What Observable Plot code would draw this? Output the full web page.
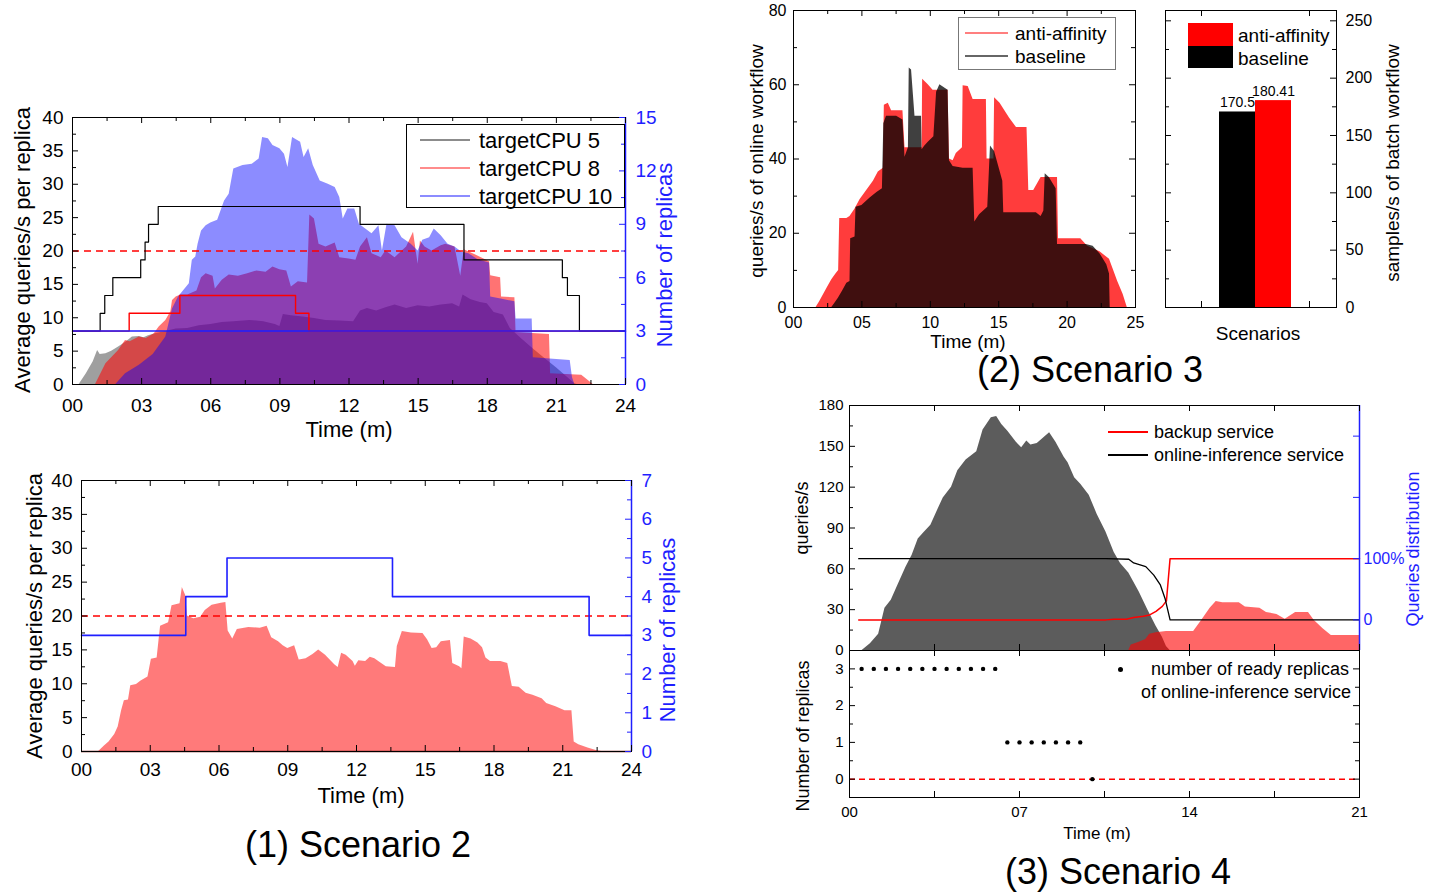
<!DOCTYPE html>
<html>
<head>
<meta charset="utf-8">
<script src="https://cdn.jsdelivr.net/npm/d3@7"></script>
<script src="https://cdn.jsdelivr.net/npm/@observablehq/plot@0.6"></script>
<style>
html,body{margin:0;padding:0;background:#fff;}
#page{position:relative;width:1435px;height:894px;overflow:hidden;font-family:"Liberation Sans",Arial,Helvetica,sans-serif;color:#000;}
.t{position:absolute;white-space:nowrap;line-height:1;}
.deco{position:absolute;box-sizing:border-box;}
</style>
</head>
<body>
<div id="page"></div>
<script>
// ======================= DATA =======================
// ---- (1) Scenario 2, top panel: avg queries/s per replica [minute, value] ----
const s2aCPU5 = [[0,0],[0.29,0],[0.6,1.6],[0.9,3.4],[1.09,5.1],[1.2,4.5],[1.45,4.6],[1.7,5.0],[2.0,5.6],[2.3,6.3],[2.6,7.1],[2.9,7.2],[3.1,7.0],[3.3,7.3],[3.6,7.6],[4.0,7.9],[4.5,8.3],[5.0,8.4],[5.5,8.8],[6.0,9.0],[6.5,9.3],[7.0,9.4],[7.7,9.6],[8.3,9.4],[8.8,9.0],[9.0,8.7],[9.15,10.5],[9.5,10.3],[10.0,10.1],[10.5,9.9],[11.0,9.6],[11.6,9.5],[12.2,9.4],[12.5,11.0],[12.8,11.4],[13.2,11.0],[13.6,11.5],[14.0,11.9],[14.5,11.4],[15.0,11.8],[15.5,11.6],[16.0,11.9],[16.5,12.1],[16.8,11.6],[16.95,13.4],[17.3,12.7],[17.7,12.3],[18.0,12.1],[18.3,10.8],[18.7,10.4],[19.0,8.4],[19.5,6.8],[20.0,5.3],[20.5,3.9],[21.0,2.5],[21.4,1.3],[21.8,0.1],[21.9,0],[24,0]];
const s2aCPU8 = [[0,0],[1.0,0],[1.45,3.1],[2.0,5.1],[2.3,6.6],[2.5,6.4],[2.9,7.1],[3.2,6.9],[3.55,7.6],[3.76,8.6],[4.05,9.6],[4.27,10.9],[4.34,12.6],[4.5,13.1],[4.7,13.4],[5.0,13.4],[5.4,14.0],[5.6,16.0],[5.8,16.6],[6.1,16.2],[6.2,14.3],[6.5,15.6],[6.8,16.4],[7.2,16.2],[7.6,16.6],[8.0,17.0],[8.4,16.8],[8.7,17.6],[9.0,17.2],[9.3,17.0],[9.5,14.6],[9.8,15.4],[10.2,15.2],[10.3,25.4],[10.5,24.8],[10.7,21.0],[11.0,20.6],[11.4,21.2],[11.6,19.0],[12.0,18.8],[12.3,18.6],[12.5,20.6],[12.8,22.0],[13.0,19.6],[13.4,19.0],[13.6,20.0],[14.0,19.0],[14.5,20.6],[14.8,22.8],[15.0,18.0],[15.1,21.5],[15.3,20.6],[15.6,20.0],[16.0,20.8],[16.2,21.0],[16.6,20.6],[16.85,16.2],[17.0,20.2],[17.5,19.4],[18.1,18.4],[18.15,16.3],[18.58,16.0],[18.62,13.1],[19.2,13.0],[19.25,7.8],[20.7,7.5],[20.75,1.6],[22.1,1.4],[22.6,0],[24,0]];
const s2aCPU10 = [[0,0],[1.88,0],[2.3,1.6],[2.9,2.9],[3.5,4.5],[4.05,7.1],[4.34,11.3],[4.6,13.1],[5.07,15.1],[5.2,18.6],[5.35,19.1],[5.45,21.0],[5.6,23.0],[5.8,23.8],[6.0,24.2],[6.3,24.6],[6.6,27.5],[6.8,28.5],[7.0,32.3],[7.4,32.8],[7.8,33.0],[8.1,33.8],[8.25,37.0],[8.5,36.8],[8.7,35.8],[9.0,35.3],[9.2,34.5],[9.35,32.5],[9.55,37.0],[9.9,36.3],[10.05,34.0],[10.25,35.3],[10.45,32.8],[10.75,30.5],[11.1,30.0],[11.4,29.5],[11.6,28.0],[11.75,24.8],[11.95,26.3],[12.25,26.3],[12.45,24.0],[13.0,22.6],[13.3,23.8],[13.45,20.0],[13.65,24.0],[14.0,23.8],[14.3,22.0],[14.7,21.0],[15.0,20.0],[15.2,21.6],[15.5,22.0],[15.7,23.3],[16.0,22.3],[16.3,21.0],[16.6,20.6],[16.9,19.8],[17.2,19.6],[17.6,18.7],[18.1,18.2],[18.15,13.1],[18.6,12.8],[19.2,12.4],[19.25,9.8],[19.95,9.8],[20.0,4.0],[21.6,3.6],[21.7,1.0],[21.8,0],[24,0]];
// replicas (step-after) [minute, replicas]
const s2aRepCPU5 = [[0,3],[1.2,4],[1.4,5],[1.75,6],[2.96,7],[3.15,8],[3.3,9],[3.72,10],[12.48,9],[16.99,7],[21.26,6],[21.48,5],[22.0,3],[24,3]];
const s2aRepCPU8 = [[0,3],[2.46,4],[4.66,5],[9.68,4],[10.26,3],[24,3]];
const s2aRepCPU10 = [[0,3],[24,3]];
const s2Threshold = [20];

// ---- (1) Scenario 2, bottom panel ----
const s2bQps = [[0,0],[0.75,0],[1.0,0.8],[1.2,1.4],[1.45,2.5],[1.6,3.6],[1.75,6.0],[1.87,7.5],[2.05,7.6],[2.15,9.7],[2.4,9.9],[2.6,10.4],[2.9,11.0],[3.05,13.6],[3.3,13.8],[3.45,18.5],[3.8,19.0],[3.95,21.5],[4.3,21.8],[4.4,24.2],[4.55,23.0],[4.62,20.0],[4.9,19.6],[5.2,19.8],[5.4,20.8],[5.7,21.6],[6.1,21.9],[6.3,22.0],[6.4,17.8],[6.6,16.6],[6.8,18.0],[7.3,18.3],[7.8,18.2],[8.1,18.5],[8.3,16.8],[8.6,16.2],[8.8,15.6],[9.0,15.2],[9.3,15.6],[9.5,13.5],[9.8,13.7],[10.1,14.3],[10.35,15.0],[10.65,14.2],[11.05,12.8],[11.2,12.4],[11.35,14.5],[11.55,14.2],[11.85,13.3],[11.95,12.6],[12.1,13.4],[12.4,13.3],[12.6,13.9],[12.8,13.7],[13.0,13.2],[13.3,12.5],[13.7,12.4],[13.78,15.5],[14.0,17.7],[14.4,17.5],[14.9,17.4],[15.1,16.5],[15.3,15.2],[15.5,15.3],[15.7,16.2],[16.1,16.4],[16.2,13.0],[16.5,12.5],[16.6,12.2],[16.7,16.9],[17.0,16.6],[17.3,16.0],[17.5,15.3],[17.65,13.8],[17.85,13.3],[18.3,13.3],[18.6,13.0],[18.8,9.6],[19.1,9.5],[19.4,8.6],[19.7,8.3],[20.1,7.8],[20.3,7.1],[20.7,6.6],[21.1,6.0],[21.4,6.0],[21.5,1.4],[21.7,1.0],[22.1,0.5],[22.5,0.1],[22.7,0],[24,0]];
const s2bReplicas = [[0,3],[4.55,4],[6.35,5],[13.57,4],[22.15,3],[24,3]];

// ---- (2) Scenario 3: queries/s of online workflow [minute, value] ----
const s3AntiAffinity = [[0,0],[1.65,0],[1.9,1.5],[2.2,3.5],[2.5,5.5],[2.8,7.5],[3.1,9],[3.3,10],[3.38,24],[3.9,24],[4.13,24.5],[4.5,26.5],[4.86,29],[5.35,31.5],[5.84,34],[6.2,36.5],[6.57,37.5],[6.64,54.5],[6.93,55],[7.17,53],[8.0,53],[8.15,43],[9.4,43],[9.44,61.5],[9.85,60],[10.2,58.5],[11.3,58.5],[11.4,40],[11.67,39.5],[11.9,41.5],[12.35,43],[12.4,59.7],[12.77,59.5],[13.13,56],[14.1,56],[14.15,40],[14.65,40],[14.7,56.5],[15.1,55],[15.8,51],[16.3,48.5],[17.07,48.5],[17.2,31.5],[17.56,31.5],[18.1,35],[19.3,35],[19.37,18.5],[21.0,18.5],[21.5,16.5],[22.4,15],[23.1,13],[23.35,10.5],[23.7,7],[24.1,3.5],[24.4,0],[25,0]];
const s3Baseline = [[0,0],[2.8,0],[3.0,1],[3.28,2.5],[3.6,4.5],[3.9,6.5],[4.13,7],[4.18,18.5],[4.5,19],[4.57,27],[5.0,27.5],[5.6,29.5],[6.1,31],[6.5,32],[6.6,49.5],[6.8,51.5],[7.54,51.5],[8.0,50.5],[8.15,40.5],[8.4,43],[8.46,64.5],[8.63,64],[8.88,51.5],[9.36,51.5],[9.4,42.5],[9.6,43.5],[9.85,44.5],[10.26,46],[10.46,58],[10.7,60],[11.3,58.5],[11.4,39.5],[11.67,38],[12.4,37.5],[13.13,37.5],[13.25,23],[13.6,25],[14.2,27],[14.4,43.5],[14.7,42],[15.3,34],[15.37,25.5],[17.75,25.5],[18.1,24.5],[18.3,26],[18.4,36],[18.7,35],[19.2,32],[19.3,17],[21.4,17],[21.9,16.5],[22.4,14.5],[22.9,11.5],[23.1,9],[23.15,0],[25,0]];
// samples/s of batch workflow
const batchScenarios = ["baseline", "anti-affinity"];
const batchValues = [170.5, 180.41];

// ---- (3) Scenario 4 ----
const s4OnlineQps = [[0,0],[0.52,0],[0.86,5],[1.2,12],[1.46,31],[1.72,37],[1.97,47],[2.32,61],[2.58,70],[2.83,82],[3.09,87],[3.35,92],[3.6,102],[3.86,112],[4.2,120],[4.46,132],[4.8,140],[5.24,146],[5.5,162],[5.84,171],[6.06,172],[6.27,166],[6.52,161],[6.87,153],[7.09,149],[7.3,154],[7.47,151],[7.73,152],[7.98,156],[8.24,160],[8.5,153],[8.84,142],[9.0,138],[9.27,127],[9.53,122],[9.87,114],[10.2,100],[10.56,87],[10.9,72],[11.16,64],[11.5,57],[11.93,43],[12.28,30],[12.62,18],[12.88,10],[13.05,3],[13.2,0],[21,0]];
const s4BackupQps = [[0,0],[11.5,0],[11.6,4],[11.93,6],[12.2,8],[12.36,12],[12.62,13],[13.05,14],[14.17,14],[14.5,22],[14.85,31],[15.1,36],[15.37,35],[16.05,35],[16.3,32],[16.9,31],[17.17,28],[17.6,26.5],[17.94,23],[18.37,28],[18.9,28],[19.14,22],[19.5,16],[19.84,11],[21,11]];
// queries distribution in % [minute, percent]
const s4OnlineShare = [[0.38,100],[10.56,100],[11.5,99],[11.7,93],[12.2,87],[12.53,73],[12.8,57],[13.0,34],[13.13,12],[13.2,0],[21,0]];
const s4BackupShare = [[0.38,0],[10.56,0],[10.9,1],[11.4,1],[11.7,4],[12.1,6],[12.36,8],[12.62,14],[12.88,22],[13.05,31],[13.2,100],[21,100]];
// number of ready replicas of online-inference service
const s4ReadyTimes = [0.5,1,1.5,2,2.5,3,3.5,4,4.5,5,5.5,6, 6.5,7,7.5,8,8.5,9,9.5, 10];
const s4ReadyCounts = [3,3,3,3,3,3,3,3,3,3,3,3, 1,1,1,1,1,1,1, 0];

// ---- tick values / labels ----
const s2TimeTicks = d3.range(0, 24.01, 3);
const s2TimeMinor = d3.range(1.5, 24, 3);
const s2QpsTicks = d3.range(0, 40.01, 5);
const s2QpsMinor = d3.range(2.5, 40, 5);
const s2aRepTicks = d3.range(0, 15.01, 3);
const s2aRepMinor = d3.range(1.5, 15, 3);
const s2bRepTicks = d3.range(0, 7.01, 1);
const s2bRepMinor = d3.range(0.5, 7, 1);
const s3TimeTicks = d3.range(0, 25.01, 5);
const s3TimeMinor = d3.range(2.5, 25, 5);
const s3QpsTicks = d3.range(0, 80.01, 20);
const s3QpsMinor = d3.range(10, 80, 20);
const batchTicks = d3.range(0, 250.01, 50);
const batchMinor = d3.range(25, 250, 50);
const s4TimeTicks = [0, 7, 14, 21];
const s4TimeAll = d3.range(0, 21.01, 3.5);
const s4QpsTicks = d3.range(0, 180.01, 30);
const s4QpsMinor = d3.range(15, 180, 30);
const s4ShareTicks = [0, 100, 200, 300];
const s4ShareLabels = ["0", "100%", "", ""];
const s4RepTicks = [0, 1, 2, 3];
const s4RepMinor = [0.5, 1.5, 2.5];

// ======================= DRAWING =======================
const FONT = '"Liberation Sans", Arial, Helvetica, sans-serif';
const page = document.getElementById("page");
const f2 = d3.format("02d");
const BLUE = "#1f1fff", RED = "#ff0000";
const X = d => d[0], Y = d => d[1];

function draw(P, spec) {
  const svg = Plot.plot({
    width: P.W + P.mL + P.mR, height: P.H + P.mT + P.mB,
    marginLeft: P.mL, marginRight: P.mR, marginTop: P.mT, marginBottom: P.mB,
    style: {fontFamily: FONT, fontSize: P.fs + "px", background: "transparent", overflow: "visible", color: "#000"},
    ...spec
  });
  svg.style.position = "absolute";
  svg.style.left = (P.left - P.mL) + "px";
  svg.style.top = (P.top - P.mT) + "px";
  svg.style.maxWidth = "none";
  page.appendChild(svg);
}
function edge(P, side, vals, len, stroke = "#000") {
  const o = {stroke, strokeWidth: 1};
  if (side === "bottom") return Plot.tickX(vals, {x: d => d, insetTop: P.H - len, ...o});
  if (side === "top") return Plot.tickX(vals, {x: d => d, insetBottom: P.H - len, ...o});
  if (side === "left") return Plot.tickY(vals, {y: d => d, insetRight: P.W - len, ...o});
  return Plot.tickY(vals, {y: d => d, insetLeft: P.W - len, ...o});
}
function label(s, x, y, o = {}) {
  const {size = 18, color = "#000", align = "middle", rotate = false} = o;
  const el = document.createElement("div");
  el.className = "t";
  el.textContent = s;
  Object.assign(el.style, {left: x + "px", top: y + "px", fontSize: size + "px", color});
  const tx = align === "middle" ? "-50%" : align === "start" ? "0" : "-100%";
  el.style.transform = `translate(${tx},-50%)` + (rotate ? " rotate(-90deg)" : "");
  page.appendChild(el);
}
function deco(l, t, w, h, css) {
  const el = document.createElement("div");
  el.className = "deco";
  Object.assign(el.style, {left: l + "px", top: t + "px", width: w + "px", height: h + "px"}, css);
  page.appendChild(el);
}

// ---------- Panel A: Scenario 2 top ----------
const A = {left: 72, top: 117, W: 553, H: 267, mL: 62, mR: 64, mT: 8, mB: 40, fs: 19};
const rA = 40 / 15;
draw(A, {
  x: {domain: [0, 24]}, y: {domain: [0, 40]},
  marks: [
    Plot.areaY(s2aCPU5, {x: X, y: Y, fill: "#404040", fillOpacity: 0.5}),
    Plot.areaY(s2aCPU8, {x: X, y: Y, fill: RED, fillOpacity: 0.55}),
    Plot.areaY(s2aCPU10, {x: X, y: Y, fill: "#0000ff", fillOpacity: 0.45}),
    Plot.ruleY(s2Threshold, {stroke: RED, strokeWidth: 1.6, strokeDasharray: "7,5"}),
    Plot.line(s2aRepCPU5, {x: X, y: d => d[1] * rA, stroke: "#000", strokeWidth: 1.2, curve: "step-after"}),
    Plot.line(s2aRepCPU8, {x: X, y: d => d[1] * rA, stroke: RED, strokeWidth: 1.4, curve: "step-after"}),
    Plot.line(s2aRepCPU10, {x: X, y: d => d[1] * rA, stroke: BLUE, strokeWidth: 1.5, curve: "step-after"}),
    Plot.frame({stroke: "#000"}),
    Plot.ruleX([24], {stroke: BLUE, strokeWidth: 1.5}),
    edge(A, "bottom", s2TimeTicks, 6), edge(A, "bottom", s2TimeMinor, 4),
    edge(A, "top", s2TimeTicks, 6), edge(A, "top", s2TimeMinor, 4),
    edge(A, "left", s2QpsTicks, 6), edge(A, "left", s2QpsMinor, 4),
    edge(A, "right", s2aRepTicks.map(v => v * rA), 6, BLUE), edge(A, "right", s2aRepMinor.map(v => v * rA), 4, BLUE),
    Plot.axisX(s2TimeTicks, {tickSize: 0, tickPadding: 14, tickFormat: f2, label: null}),
    Plot.axisY(s2QpsTicks, {tickSize: 0, tickPadding: 9, label: null}),
    Plot.axisY(s2aRepTicks.map(v => v * rA), {anchor: "right", tickSize: 0, tickPadding: 10, tickFormat: d => Math.round(d / rA), fill: BLUE, label: null})
  ]
});
label("Average queries/s per replica", 23, 250, {size: 22, rotate: true});
label("Number of replicas", 665, 255, {size: 22, rotate: true, color: BLUE});
label("Time (m)", 349, 430, {size: 22});
deco(406, 124, 219, 84, {border: "1px solid #000"});
deco(420, 139, 50, 1.5, {background: "rgba(0,0,0,0.45)"});
deco(420, 167, 50, 1.5, {background: "rgba(255,0,0,0.45)"});
deco(420, 195, 50, 1.5, {background: "rgba(0,0,255,0.45)"});
label("targetCPU 5", 479, 141, {size: 22, align: "start"});
label("targetCPU 8", 479, 169, {size: 22, align: "start"});
label("targetCPU 10", 479, 197, {size: 22, align: "start"});

// ---------- Panel B: Scenario 2 bottom ----------
const B = {left: 81, top: 480, W: 550, H: 271, mL: 62, mR: 64, mT: 8, mB: 40, fs: 19};
const rB = 40 / 7;
draw(B, {
  x: {domain: [0, 24]}, y: {domain: [0, 40]},
  marks: [
    Plot.areaY(s2bQps, {x: X, y: Y, fill: RED, fillOpacity: 0.52}),
    Plot.ruleY([0], {stroke: "#7a1010", strokeWidth: 1.5}),
    Plot.ruleY(s2Threshold, {stroke: RED, strokeWidth: 1.6, strokeDasharray: "7,5"}),
    Plot.line(s2bReplicas, {x: X, y: d => d[1] * rB, stroke: BLUE, strokeWidth: 1.6, curve: "step-after"}),
    Plot.frame({stroke: "#000"}),
    Plot.ruleX([24], {stroke: BLUE, strokeWidth: 1.5}),
    edge(B, "bottom", s2TimeTicks, 6), edge(B, "bottom", s2TimeMinor, 4),
    edge(B, "top", s2TimeTicks, 6), edge(B, "top", s2TimeMinor, 4),
    edge(B, "left", s2QpsTicks, 6), edge(B, "left", s2QpsMinor, 4),
    edge(B, "right", s2bRepTicks.map(v => v * rB), 6, BLUE), edge(B, "right", s2bRepMinor.map(v => v * rB), 4, BLUE),
    Plot.axisX(s2TimeTicks, {tickSize: 0, tickPadding: 11, tickFormat: f2, label: null}),
    Plot.axisY(s2QpsTicks, {tickSize: 0, tickPadding: 9, label: null}),
    Plot.axisY(s2bRepTicks.map(v => v * rB), {anchor: "right", tickSize: 0, tickPadding: 10, tickFormat: d => Math.round(d / rB), fill: BLUE, label: null})
  ]
});
label("Average queries/s per replica", 35, 616, {size: 22, rotate: true});
label("Number of replicas", 668, 630, {size: 22, rotate: true, color: BLUE});
label("Time (m)", 361, 796, {size: 22});
label("(1) Scenario 2", 358, 845, {size: 36});

// ---------- Panel C: Scenario 3 online workflow ----------
const C = {left: 793, top: 10, W: 342, H: 297, mL: 42, mR: 12, mT: 10, mB: 30, fs: 16};
draw(C, {
  x: {domain: [0, 25]}, y: {domain: [0, 80]},
  marks: [
    Plot.areaY(s3AntiAffinity, {x: X, y: Y, fill: "#ff1a1a", fillOpacity: 0.85}),
    Plot.areaY(s3Baseline, {x: X, y: Y, fill: "#000", fillOpacity: 0.75}),
    Plot.frame({stroke: "#000"}),
    edge(C, "bottom", s3TimeTicks, 6), edge(C, "bottom", s3TimeMinor, 4),
    edge(C, "top", s3TimeTicks, 6), edge(C, "top", s3TimeMinor, 4),
    edge(C, "left", s3QpsTicks, 6), edge(C, "left", s3QpsMinor, 4),
    edge(C, "right", s3QpsTicks, 6), edge(C, "right", s3QpsMinor, 4),
    Plot.axisX(s3TimeTicks, {tickSize: 0, tickPadding: 9, tickFormat: f2, label: null}),
    Plot.axisY(s3QpsTicks, {tickSize: 0, tickPadding: 7, label: null})
  ]
});
label("queries/s of online workflow", 756, 161, {size: 19, rotate: true});
label("Time (m)", 968, 341, {size: 19});
deco(958, 17, 158, 53, {border: "1px solid #777"});
deco(965, 32, 43, 1.5, {background: "rgba(255,0,0,0.5)"});
deco(965, 55, 43, 1.5, {background: "rgba(0,0,0,0.6)"});
label("anti-affinity", 1015, 33, {size: 19, align: "start"});
label("baseline", 1015, 56, {size: 19, align: "start"});

// ---------- Panel D: batch workflow bars ----------
const D = {left: 1165, top: 10, W: 171, H: 297, mL: 8, mR: 58, mT: 10, mB: 10, fs: 16};
draw(D, {
  x: {domain: [-1.5, 3.25], axis: null}, y: {domain: [0, 259]},
  color: {domain: batchScenarios, range: ["#000000", "#ff0000"]},
  marks: [
    Plot.rect(batchValues, {x1: (d, i) => i, x2: (d, i) => i + 1, y1: 0, y2: d => d, fill: (d, i) => batchScenarios[i]}),
    Plot.text(batchValues, {x: (d, i) => i + 0.5, y: d => d, text: d => String(d), dy: -9, fontSize: 14}),
    Plot.frame({stroke: "#000"}),
    edge(D, "left", batchTicks, 6), edge(D, "left", batchMinor, 4),
    edge(D, "right", batchTicks, 6), edge(D, "right", batchMinor, 4),
    edge(D, "bottom", [-0.5, 2.5], 6), edge(D, "top", [-0.5, 2.5], 6),
    Plot.axisY(batchTicks, {anchor: "right", tickSize: 0, tickPadding: 9, label: null})
  ]
});
label("samples/s of batch workflow", 1392, 163, {size: 19, rotate: true});
label("Scenarios", 1258, 333, {size: 19});
deco(1188, 23, 45, 23, {background: "#ff0000"});
deco(1188, 46, 45, 22, {background: "#000"});
label("anti-affinity", 1238, 35, {size: 19, align: "start"});
label("baseline", 1238, 58, {size: 19, align: "start"});
label("(2) Scenario 3", 1090, 370, {size: 36});

// ---------- Panel E: Scenario 4 queries ----------
const E = {left: 849, top: 405, W: 510, H: 245, mL: 62, mR: 60, mT: 8, mB: 1, fs: 15};
const pct = p => 22.5 + 0.45 * p;
draw(E, {
  x: {domain: [0, 21], axis: null}, y: {domain: [0, 180]},
  marks: [
    Plot.areaY(s4OnlineQps, {x: X, y: Y, fill: "#333", fillOpacity: 0.8}),
    Plot.areaY(s4BackupQps, {x: X, y: Y, fill: RED, fillOpacity: 0.6}),
    Plot.line(s4BackupShare, {x: X, y: d => pct(d[1]), stroke: RED, strokeWidth: 1.5}),
    Plot.line(s4OnlineShare, {x: X, y: d => pct(d[1]), stroke: "#000", strokeWidth: 1.3}),
    Plot.frame({stroke: "#000"}),
    Plot.ruleX([21], {stroke: BLUE, strokeWidth: 1.5}),
    edge(E, "bottom", s4TimeAll, 6), edge(E, "top", s4TimeAll, 6),
    edge(E, "left", s4QpsTicks, 6), edge(E, "left", s4QpsMinor, 4),
    edge(E, "right", s4ShareTicks.map(pct), 6, BLUE),
    Plot.axisY(s4QpsTicks, {tickSize: 0, tickPadding: 6, label: null}),
    Plot.axisY(s4ShareTicks.map(pct), {anchor: "right", tickSize: 0, tickPadding: 4, tickFormat: (d, i) => s4ShareLabels[i], fill: BLUE, fontSize: 16, label: null})
  ]
});
label("queries/s", 802, 518, {size: 18, rotate: true});
label("Queries distribution", 1413, 549, {size: 18, rotate: true, color: BLUE});
deco(1108, 431, 40, 1.5, {background: RED});
deco(1108, 454, 40, 1.5, {background: "#000"});
label("backup service", 1154, 432, {size: 18, align: "start"});
label("online-inference service", 1154, 455, {size: 18, align: "start"});

// ---------- Panel F: Scenario 4 ready replicas ----------
const F = {left: 849, top: 650, W: 510, H: 147, mL: 62, mR: 60, mT: 1, mB: 30, fs: 15};
draw(F, {
  x: {domain: [0, 21]}, y: {domain: [-0.5, 3.5]},
  marks: [
    Plot.ruleY([0], {stroke: RED, strokeWidth: 1.5, strokeDasharray: "6,4"}),
    Plot.dot(s4ReadyTimes, {x: d => d, y: (d, i) => s4ReadyCounts[i], r: 2.2, fill: "#000", stroke: "none"}),
    Plot.frame({stroke: "#000"}),
    edge(F, "bottom", s4TimeAll, 6), edge(F, "top", s4TimeAll, 6),
    edge(F, "left", s4RepTicks, 6), edge(F, "left", s4RepMinor, 4),
    edge(F, "right", s4RepTicks, 6), edge(F, "right", s4RepMinor, 4),
    Plot.axisX(s4TimeTicks, {tickSize: 0, tickPadding: 9, tickFormat: f2, label: null}),
    Plot.axisY(s4RepTicks, {tickSize: 0, tickPadding: 6, label: null})
  ]
});
label("Number of replicas", 803, 736, {size: 18, rotate: true});
label("Time (m)", 1097, 833, {size: 17});
deco(1118, 667, 5, 5, {background: "#000", borderRadius: "50%"});
label("number of ready replicas", 1349, 669, {size: 18, align: "end"});
label("of online-inference service", 1351, 692, {size: 18, align: "end"});
label("(3) Scenario 4", 1118, 872, {size: 36});
</script>
</body>
</html>
